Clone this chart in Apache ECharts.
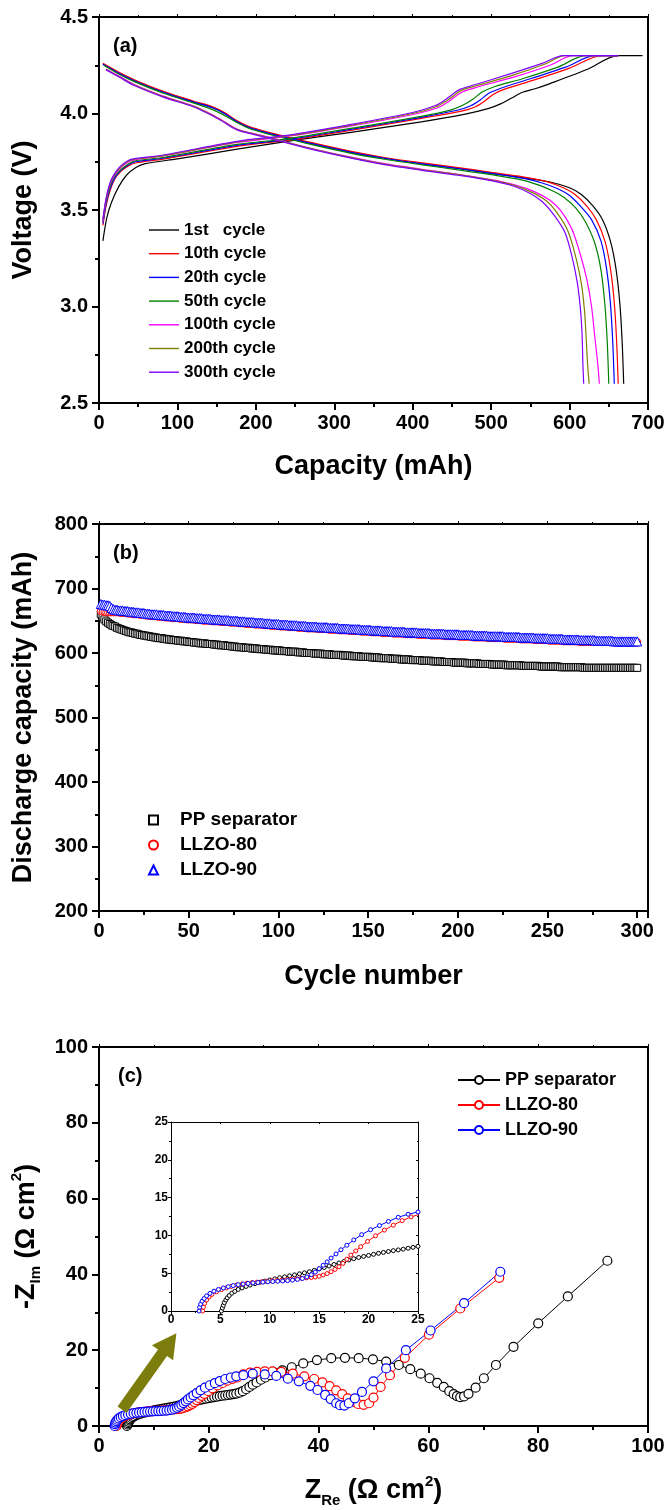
<!DOCTYPE html>
<html><head><meta charset="utf-8">
<script src="https://cdn.jsdelivr.net/npm/echarts/dist/echarts.min.js"></script>
<style>html,body{margin:0;padding:0;background:#fff}#c{width:667px;height:1510px}</style>
</head><body><div id="c"></div><script>
// ---------- Panel (a): charge/discharge curves [capacity mAh, voltage V] ----------
const cycleNames = ['1st   cycle','10th cycle','20th cycle','50th cycle','100th cycle','200th cycle','300th cycle'];
const charge1 = [[5,3.34],[10,3.46],[16,3.54],[25,3.62],[35,3.68],[47,3.72],[59,3.74],[100,3.765],[176,3.815],[242,3.857],[317,3.9],[411,3.957],[467,3.997],[496,4.025],[512,4.05],[526,4.08],[540,4.11],[556,4.128],[575,4.155],[622,4.228],[662,4.3],[693,4.3]];
const charge10 = [[5,3.42],[9,3.52],[14,3.6],[20,3.66],[28,3.7],[38,3.73],[48,3.745],[82,3.764],[176,3.83],[242,3.862],[317,3.91],[411,3.975],[465,4.015],[480,4.035],[492,4.065],[503,4.1],[520,4.13],[552,4.17],[600,4.235],[641,4.3],[662,4.3]];
const charge20 = [[5,3.43],[9,3.53],[14,3.61],[20,3.665],[28,3.705],[38,3.735],[47,3.75],[82,3.768],[176,3.835],[242,3.866],[317,3.915],[411,3.98],[458,4.018],[474,4.04],[486,4.07],[497,4.105],[515,4.135],[550,4.18],[595,4.24],[632,4.3],[662,4.3]];
const charge50 = [[5,3.44],[9,3.54],[14,3.62],[20,3.675],[28,3.71],[38,3.74],[46,3.755],[82,3.772],[176,3.84],[242,3.87],[317,3.92],[411,3.985],[450,4.02],[465,4.045],[477,4.075],[488,4.11],[505,4.14],[540,4.18],[585,4.24],[620,4.3],[662,4.3]];
const charge100 = [[5,3.44],[9,3.55],[14,3.63],[20,3.68],[28,3.72],[38,3.75],[45,3.76],[82,3.78],[176,3.85],[242,3.882],[317,3.932],[400,3.995],[432,4.03],[445,4.06],[455,4.09],[465,4.115],[485,4.14],[530,4.19],[575,4.25],[604,4.3],[662,4.3]];
const charge200 = [[5,3.45],[9,3.555],[14,3.635],[20,3.685],[28,3.725],[38,3.755],[44,3.762],[82,3.782],[176,3.853],[242,3.885],[317,3.936],[400,4.0],[430,4.035],[443,4.065],[453,4.095],[462,4.12],[482,4.145],[525,4.195],[568,4.255],[594,4.3],[662,4.3]];
const charge300 = [[5,3.45],[9,3.56],[14,3.64],[20,3.69],[28,3.73],[38,3.758],[44,3.765],[82,3.785],[176,3.856],[242,3.888],[317,3.94],[400,4.005],[428,4.04],[441,4.07],[451,4.1],[460,4.125],[480,4.15],[520,4.2],[565,4.26],[592,4.3],[662,4.3]];
const discharge1 = [[5,4.255],[25,4.21],[45,4.17],[82,4.11],[120,4.06],[145,4.03],[160,4.0],[175,3.96],[190,3.93],[214,3.9],[270,3.845],[320,3.8],[364,3.768],[410,3.74],[458,3.715],[500,3.69],[540,3.668],[575,3.645],[600,3.615],[615,3.58],[630,3.52],[642,3.45],[652,3.34],[659,3.2],[664,3.02],[667,2.82],[669,2.6]];
const discharge10 = [[5,4.26],[25,4.215],[45,4.175],[82,4.115],[120,4.065],[145,4.035],[160,4.005],[175,3.965],[190,3.935],[214,3.905],[270,3.85],[320,3.805],[364,3.772],[410,3.745],[458,3.72],[500,3.695],[540,3.672],[570,3.648],[592,3.615],[607,3.58],[622,3.52],[634,3.45],[645,3.34],[652,3.2],[657,3.02],[660,2.82],[662,2.6]];
const discharge20 = [[5,4.255],[25,4.21],[45,4.17],[82,4.11],[120,4.06],[145,4.03],[160,4.0],[175,3.96],[190,3.93],[214,3.9],[270,3.845],[320,3.8],[364,3.768],[410,3.74],[458,3.715],[500,3.69],[540,3.665],[565,3.64],[585,3.61],[600,3.575],[615,3.515],[628,3.45],[640,3.34],[647,3.2],[652,3.02],[655,2.82],[657,2.6]];
const discharge50 = [[6,4.25],[25,4.205],[45,4.165],[82,4.105],[120,4.055],[145,4.02],[160,3.99],[175,3.955],[190,3.925],[214,3.895],[270,3.84],[320,3.795],[364,3.763],[410,3.735],[458,3.708],[500,3.683],[540,3.655],[560,3.63],[578,3.6],[593,3.565],[608,3.51],[620,3.44],[632,3.33],[640,3.19],[645,3.01],[648,2.82],[650,2.6]];
const discharge100 = [[9,4.23],[25,4.195],[45,4.15],[82,4.09],[120,4.04],[139,4.005],[155,3.97],[176,3.92],[214,3.88],[270,3.82],[320,3.775],[364,3.74],[410,3.712],[458,3.685],[500,3.657],[530,3.63],[555,3.595],[575,3.55],[590,3.49],[603,3.4],[613,3.28],[622,3.14],[628,3.0],[632,2.85],[636,2.7],[638,2.6]];
const discharge200 = [[9,4.228],[25,4.192],[45,4.148],[82,4.088],[120,4.038],[139,4.003],[155,3.968],[176,3.918],[214,3.878],[270,3.818],[320,3.773],[364,3.738],[410,3.71],[458,3.683],[500,3.655],[530,3.627],[553,3.59],[571,3.545],[585,3.48],[598,3.39],[607,3.27],[615,3.12],[619,2.98],[621,2.85],[623,2.7],[625,2.6]];
const discharge300 = [[9,4.226],[25,4.19],[45,4.145],[82,4.085],[120,4.035],[139,4.0],[155,3.965],[176,3.915],[214,3.875],[270,3.815],[320,3.77],[364,3.735],[410,3.707],[458,3.68],[500,3.652],[530,3.622],[550,3.585],[566,3.54],[580,3.475],[594,3.385],[603,3.26],[610,3.12],[614,2.98],[616,2.85],[617,2.7],[618,2.6]];

// ---------- Panel (b): discharge capacity (mAh) vs cycle 1..300 ----------
const sampleNames = ['PP separator','LLZO-80','LLZO-90'];
const capPP = [
660,656,652,649,647,645,643,642,641,639, 638,637,636,635,634,633,632,632,631,630,
630,629,628,628,627,627,626,626,625,625, 624,624,623,623,623,622,622,621,621,621,
620,620,620,619,619,619,618,618,618,617, 617,617,616,616,616,615,615,615,615,614,
614,614,614,613,613,613,612,612,612,612, 611,611,611,610,610,610,609,609,609,609,
608,608,608,608,607,607,607,607,606,606, 606,606,605,605,605,605,604,604,604,604,
604,603,603,603,603,602,602,602,602,602, 601,601,601,601,600,600,600,600,600,599,
599,599,599,599,598,598,598,598,598,597, 597,597,597,597,597,596,596,596,596,596,
595,595,595,595,595,594,594,594,594,594, 594,593,593,593,593,593,592,592,592,592,
592,592,591,591,591,591,591,590,590,590, 590,590,590,589,589,589,589,589,589,588,
588,588,588,588,588,587,587,587,587,587, 587,586,586,586,586,586,586,585,585,585,
585,585,585,585,584,584,584,584,584,584, 584,583,583,583,583,583,583,583,582,582,
582,582,582,582,582,582,581,581,581,581, 581,581,581,581,581,580,580,580,580,580,
580,580,580,580,580,579,579,579,579,579, 579,579,579,579,579,579,578,578,578,578,
578,578,578,578,578,578,578,578,578,577, 577,577,577,577,577,577,577,577,577,577,
577,577,577,577,577,577,577,577,577,577, 577,577,577,577,577,577,577,577,577,577];
const capL80 = [
665,664,664,663,663,663,663,663,663,663, 663,662,662,662,662,661,661,661,660,660,
660,660,659,659,659,658,658,658,657,657, 657,657,656,656,656,656,655,655,655,655,
654,654,654,654,653,653,653,653,652,652, 652,652,652,651,651,651,651,650,650,650,
650,650,649,649,649,649,649,648,648,648, 648,648,647,647,647,647,647,646,646,646,
646,645,645,645,645,645,644,644,644,644, 644,643,643,643,643,642,642,642,642,642,
641,641,641,641,641,640,640,640,640,640, 639,639,639,639,639,638,638,638,638,638,
638,637,637,637,637,637,637,636,636,636, 636,636,636,635,635,635,635,635,635,634,
634,634,634,634,634,633,633,633,633,633, 633,632,632,632,632,632,632,631,631,631,
631,631,631,630,630,630,630,630,630,630, 629,629,629,629,629,629,629,628,628,628,
628,628,628,628,627,627,627,627,627,627, 627,627,626,626,626,626,626,626,626,626,
625,625,625,625,625,625,625,625,624,624, 624,624,624,624,624,624,623,623,623,623,
623,623,623,623,623,622,622,622,622,622, 622,622,622,622,621,621,621,621,621,621,
621,621,620,620,620,620,620,620,620,620, 619,619,619,619,619,619,619,619,618,618,
618,618,618,618,618,618,618,617,617,617, 617,617,617,617,617,617,617,617,617,617,
617,617,617,617,617,617,617,617,617,617, 617,617,617,617,617,617,617,617,617,617];
const capL90 = [
676,675,675,674,674,673,670,668,667,667, 666,666,666,665,665,665,664,664,664,663,
663,663,662,662,662,661,661,661,660,660, 660,660,659,659,659,659,658,658,658,658,
657,657,657,657,656,656,656,656,655,655, 655,655,655,654,654,654,654,653,653,653,
653,653,652,652,652,652,652,651,651,651, 651,651,650,650,650,650,650,649,649,649,
649,648,648,648,648,648,647,647,647,647, 647,646,646,646,646,645,645,645,645,645,
644,644,644,644,644,643,643,643,643,643, 642,642,642,642,642,641,641,641,641,641,
641,640,640,640,640,640,640,639,639,639, 639,639,639,638,638,638,638,638,638,637,
637,637,637,637,637,636,636,636,636,636, 636,635,635,635,635,635,635,634,634,634,
634,634,634,633,633,633,633,633,633,633, 632,632,632,632,632,632,632,631,631,631,
631,631,631,631,630,630,630,630,630,630, 630,630,629,629,629,629,629,629,629,629,
628,628,628,628,628,628,628,628,627,627, 627,627,627,627,627,627,626,626,626,626,
626,626,626,626,626,625,625,625,625,625, 625,625,625,625,624,624,624,624,624,624,
624,624,623,623,623,623,623,623,623,623, 622,622,622,622,622,622,622,622,621,621,
621,621,621,621,621,621,621,620,620,620, 620,620,620,620,620,620,619,619,619,619,
619,619,619,619,619,619,618,618,618,618, 618,618,618,618,618,618,618,618,618,618];

// ---------- Panel (c): Nyquist plots [Z_Re, -Z_Im] (Ω cm²) ----------
const eisPP = [[5.1,0],[5.2,0.4],[5.3,0.75],[5.4,1.1],[5.55,1.45],[5.7,1.75],[5.9,2.05],[6.15,2.35],[6.45,2.6],[6.8,2.85],[7.2,3.05],[7.6,3.25],[8.0,3.43],[8.5,3.62],[9.0,3.8],[9.5,3.95],[10.0,4.1],[10.5,4.25],[11.0,4.4],[11.5,4.52],[12.0,4.65],[12.5,4.78],[13.0,4.92],[13.5,5.05],[14.0,5.2],[14.5,5.38],[15.0,5.56],[15.5,5.75],[16.0,5.95],[16.5,6.15],[17.0,6.35],[17.5,6.55],[18.0,6.75],[18.5,6.92],[19.0,7.08],[19.5,7.22],[20.0,7.35],[20.5,7.5],[21.0,7.63],[21.5,7.75],[22.0,7.87],[22.5,7.98],[23.0,8.08],[23.5,8.18],[24.0,8.3],[24.5,8.42],[25.0,8.55],[25.6,8.8],[26.2,9.2],[26.8,9.7],[27.4,10.3],[28.0,10.9],[28.7,11.5],[29.5,12.2],[30.3,12.8],[31.2,13.4],[32.2,14.0],[33.4,14.7],[35.1,15.5],[37.2,16.5],[39.7,17.4],[42.3,17.9],[44.8,18.0],[47.3,17.9],[49.9,17.6],[52.3,17.0],[54.6,16.1],[56.7,15.0],[58.6,13.8],[60.2,12.6],[61.6,11.4],[62.8,10.3],[63.8,9.2],[64.6,8.4],[65.2,7.9],[65.8,7.6],[66.5,7.8],[67.3,8.5],[68.6,10.1],[70.1,12.6],[72.3,16.1],[75.5,20.9],[80.0,27.1],[85.4,34.2],[92.6,43.6]];
const eisL80 = [[3.2,0],[3.28,0.5],[3.4,1.0],[3.6,1.45],[3.85,1.85],[4.15,2.2],[4.6,2.55],[5.1,2.82],[5.6,3.05],[6.1,3.25],[6.65,3.43],[7.2,3.57],[7.7,3.68],[8.2,3.76],[8.7,3.82],[9.2,3.88],[9.7,3.93],[10.2,3.98],[10.7,4.03],[11.2,4.08],[11.7,4.13],[12.2,4.2],[12.7,4.27],[13.2,4.33],[13.7,4.38],[14.2,4.43],[14.6,4.5],[15.0,4.6],[15.4,4.75],[15.8,4.95],[16.2,5.2],[16.6,5.5],[17.0,5.85],[17.4,6.3],[17.8,6.85],[18.2,7.4],[18.7,7.95],[19.2,8.5],[19.9,9.2],[20.7,9.95],[21.6,10.7],[22.5,11.35],[23.4,11.95],[24.3,12.45],[25.2,12.8],[26.3,13.6],[27.5,14.1],[28.8,14.3],[30.2,14.4],[31.6,14.4],[33.2,14.3],[35.3,13.8],[37.4,13.1],[39.2,12.4],[40.7,11.5],[42.0,10.5],[43.2,9.4],[44.3,8.4],[45.3,7.3],[46.2,6.4],[47.2,5.8],[48.2,5.6],[49.2,6.0],[50.0,7.5],[51.3,10.3],[53.0,13.4],[55.7,18.0],[60.1,24.1],[65.8,31.0],[72.9,39.1]];
const eisL90 = [[2.84,0],[2.9,0.5],[3.0,0.9],[3.15,1.3],[3.35,1.65],[3.6,2.0],[3.95,2.33],[4.35,2.62],[4.8,2.85],[5.3,3.05],[5.8,3.22],[6.3,3.36],[6.8,3.48],[7.3,3.57],[7.8,3.65],[8.3,3.72],[8.8,3.77],[9.3,3.82],[9.8,3.86],[10.3,3.9],[10.8,3.93],[11.3,3.97],[11.8,4.02],[12.3,4.08],[12.8,4.18],[13.3,4.3],[13.75,4.5],[14.2,4.8],[14.6,5.15],[15.0,5.6],[15.4,6.05],[15.8,6.5],[16.2,7.0],[16.7,7.55],[17.2,8.1],[17.8,8.7],[18.5,9.4],[19.3,10.1],[20.2,10.75],[21.1,11.3],[22.0,11.85],[23.0,12.4],[24.0,12.8],[25.0,13.1],[26.3,13.4],[28.0,13.8],[30.2,13.6],[32.3,13.2],[34.4,12.5],[36.4,11.8],[38.5,10.6],[39.8,9.5],[41.2,8.2],[42.2,7.1],[43.2,6.0],[43.9,5.5],[44.7,5.4],[45.5,6.0],[46.6,7.3],[47.9,9.0],[50.0,11.8],[52.3,15.2],[55.9,20.0],[60.4,25.2],[66.5,32.4],[73.1,40.7]];
const arrowFrom = [4.2, 4.3];
const arrowTo = [14.1, 24.5];

// ---------- styles ----------
const FONT = "'Liberation Sans', Arial, Helvetica, sans-serif";
const cycleColors = ['#000000','#ff0000','#0000ff','#008000','#ff00ff','#808000','#8000ff'];
const sampleColors = ['#000000','#ff0000','#0000ff'];
const chargeSets = [charge1,charge10,charge20,charge50,charge100,charge200,charge300];
const dischargeSets = [discharge1,discharge10,discharge20,discharge50,discharge100,discharge200,discharge300];

const chart = echarts.init(document.getElementById('c'), null, {renderer:'canvas'});
const txt = (size) => ({fontFamily:FONT, fontWeight:'bold', fontSize:size, color:'#000'});
const AXL = (w) => ({show:true, onZero:false, lineStyle:{color:'#000', width:w}});

function mainX(gi, min, max, interval, fmt, name, gap, nameStyle) {
  return {gridIndex:gi, type:'value', position:'bottom', min, max, interval,
    axisLine:AXL(2), splitLine:{show:false},
    axisTick:{show:true, length:7, lineStyle:{color:'#000', width:2}},
    minorTick:{show:true, splitNumber:2, length:4, lineStyle:{color:'#000', width:2}},
    axisLabel:Object.assign(txt(20), {margin:10, formatter:fmt, hideOverlap:false}),
    name, nameLocation:'middle', nameGap:gap, nameTextStyle:nameStyle};
}
function topX(gi, min, max, interval) {
  return {gridIndex:gi, type:'value', position:'top', min, max, interval,
    axisLine:AXL(2), splitLine:{show:false},
    axisTick:{show:true, length:3, lineStyle:{color:'#000', width:1}},
    minorTick:{show:true, splitNumber:2, length:2, lineStyle:{color:'#000', width:1}},
    axisLabel:{show:false}};
}
function mainY(gi, min, max, interval, fmt, name, gap, nameStyle) {
  return {gridIndex:gi, type:'value', position:'left', min, max, interval,
    axisLine:AXL(2), splitLine:{show:false},
    axisTick:{show:true, length:7, lineStyle:{color:'#000', width:2}},
    minorTick:{show:true, splitNumber:2, length:4, lineStyle:{color:'#000', width:2}},
    axisLabel:Object.assign(txt(20), {margin:11, formatter:fmt, hideOverlap:false}),
    name, nameLocation:'middle', nameGap:gap, nameRotate:90, nameTextStyle:nameStyle};
}
function rightY(gi, min, max) {
  return {gridIndex:gi, type:'value', position:'right', min, max,
    axisLine:AXL(2), splitLine:{show:false}, axisTick:{show:false}, axisLabel:{show:false}};
}
const titleStyle = txt(27);
const zRich = {
  m:{fontFamily:FONT, fontWeight:'bold', fontSize:27, color:'#000', lineHeight:34},
  s:{fontFamily:FONT, fontWeight:'bold', fontSize:15, color:'#000', lineHeight:16, verticalAlign:'bottom'},
  p:{fontFamily:FONT, fontWeight:'bold', fontSize:15, color:'#000', lineHeight:16, verticalAlign:'top'}
};

const grids = [
  {left:99, top:17, width:549, height:386},
  {left:99, top:524, width:549, height:387},
  {left:99, top:1047, width:549, height:379},
  {left:171, top:1122, width:247, height:189}
].map(g => Object.assign(g, {containLabel:false, outerBoundsMode:'none'}));

const xAxes = [
  mainX(0, 0, 700, 100, null, 'Capacity (mAh)', 50, titleStyle),
  topX(0, 0, 700, 100),
  mainX(1, 0, 306, 50, v => (v % 50 === 0 ? String(v) : ''), 'Cycle number', 52, titleStyle),
  topX(1, 0, 306, 50),
  mainX(2, 0, 100, 20, null, '{m|Z}{s|Re}{m| (Ω cm}{p|2}{m|)}', 48, {rich:zRich}),
  topX(2, 0, 100, 20),
  {gridIndex:3, type:'value', position:'bottom', min:0, max:25, interval:5,
    axisLine:AXL(1), splitLine:{show:false},
    axisTick:{show:true, length:3, lineStyle:{color:'#000', width:1}},
    minorTick:{show:true, splitNumber:2, length:2, lineStyle:{color:'#000', width:1}},
    axisLabel:Object.assign(txt(12), {margin:3})},
  {gridIndex:3, type:'value', position:'top', min:0, max:25, interval:5,
    axisLine:AXL(1), splitLine:{show:false},
    axisTick:{show:true, inside:true, length:2, lineStyle:{color:'#000', width:1}},
    minorTick:{show:true, splitNumber:2, length:1, lineStyle:{color:'#000', width:1}},
    axisLabel:{show:false}}
];
const yAxes = [
  mainY(0, 2.5, 4.5, 0.5, v => v.toFixed(1), 'Voltage (V)', 62, titleStyle),
  rightY(0, 2.5, 4.5),
  mainY(1, 200, 800, 100, null, 'Discharge capacity (mAh)', 62, titleStyle),
  rightY(1, 200, 800),
  mainY(2, 0, 100, 20, null, '{m|-Z}{s|Im}{m| (Ω cm}{p|2}{m|)}', 54, {rich:zRich}),
  rightY(2, 0, 100),
  {gridIndex:3, type:'value', position:'left', min:0, max:25, interval:5,
    axisLine:AXL(1), splitLine:{show:false},
    axisTick:{show:true, length:3, lineStyle:{color:'#000', width:1}},
    minorTick:{show:true, splitNumber:2, length:2, lineStyle:{color:'#000', width:1}},
    axisLabel:Object.assign(txt(12), {margin:3})},
  {gridIndex:3, type:'value', position:'right', min:0, max:25, interval:5,
    axisLine:AXL(1), splitLine:{show:false},
    axisTick:{show:true, inside:true, length:2, lineStyle:{color:'#000', width:1}},
    minorTick:{show:true, splitNumber:2, length:1, lineStyle:{color:'#000', width:1}},
    axisLabel:{show:false}}
];

const series = [];
// (a)
for (let i = 0; i < 7; i++) {
  [chargeSets[i], dischargeSets[i]].forEach(d => series.push({
    type:'line', name:cycleNames[i], xAxisIndex:0, yAxisIndex:0, data:d,
    smooth:0.3, symbol:'none', color:cycleColors[i],
    lineStyle:{width:1.2, color:cycleColors[i]}, z:2, animation:false
  }));
}
// (b)
const capSets = [capPP, capL80, capL90];
const capSymbols = ['rect','circle','triangle'];
const capSizes = [7, 7, 9];
capSets.forEach((arr, k) => series.push({
  type:'scatter', name:sampleNames[k], xAxisIndex:2, yAxisIndex:2,
  data:arr.map((v, i) => [i + 1, v]), symbol:capSymbols[k], symbolSize:capSizes[k],
  color:sampleColors[k],
  itemStyle:{color:'#ffffff', borderColor:sampleColors[k], borderWidth:1, opacity:1},
  z:2, animation:false
}));
// (c) main + inset
const eisSets = [eisPP, eisL80, eisL90];
eisSets.forEach((d, k) => series.push({
  type:'line', name:sampleNames[k] + '#c', xAxisIndex:4, yAxisIndex:4, data:d,
  symbol:'circle', symbolSize:9, showAllSymbol:true, color:sampleColors[k],
  itemStyle:{color:'#ffffff', borderColor:sampleColors[k], borderWidth:1.2},
  lineStyle:{width:1, color:sampleColors[k]}, z:2, animation:false
}));
eisSets.forEach((d, k) => series.push({
  type:'line', name:sampleNames[k] + '#i', xAxisIndex:6, yAxisIndex:6, data:d,
  symbol:'circle', symbolSize:4, showAllSymbol:true, clip:true, color:sampleColors[k],
  itemStyle:{color:'#ffffff', borderColor:sampleColors[k], borderWidth:1},
  lineStyle:{width:1, color:sampleColors[k]}, z:3, animation:false
}));

const option = {
  animation:false,
  backgroundColor:'#ffffff',
  grid:grids, xAxis:xAxes, yAxis:yAxes, series,
  legend:[
    {data:cycleNames, orient:'vertical', left:144, top:216, icon:'rect', itemWidth:30, itemHeight:1.4, itemGap:5.7,
     textStyle:Object.assign(txt(17), {lineHeight:18}), selectedMode:false},
    {data:sampleNames, orient:'vertical', left:143, top:805, itemWidth:9, itemHeight:9, itemGap:5,
     textStyle:Object.assign(txt(19), {lineHeight:20, padding:[0,0,0,17]}), selectedMode:false},
    {data:sampleNames.map(n => n + '#c'), orient:'vertical', left:452, top:1065, itemWidth:42, itemHeight:10, itemGap:5,
     formatter:n => n.replace('#c', ''), textStyle:Object.assign(txt(18), {lineHeight:20}), selectedMode:false}
  ]
};
chart.setOption(option);

// annotations: panel labels and olive arrow (placed via the axes)
const p0 = chart.convertToPixel({xAxisIndex:4, yAxisIndex:4}, arrowFrom);
const p1 = chart.convertToPixel({xAxisIndex:4, yAxisIndex:4}, arrowTo);
const dx = p1[0] - p0[0], dy = p1[1] - p0[1], L = Math.hypot(dx, dy);
const ux = dx / L, uy = dy / L, nx = -uy, ny = ux;
const sw = 5.5, hw = 13, hl = 24;
const bx = p1[0] - ux * hl, by = p1[1] - uy * hl;
const arrowPts = [
  [p0[0] + nx * sw, p0[1] + ny * sw], [bx + nx * sw, by + ny * sw], [bx + nx * hw, by + ny * hw],
  [p1[0], p1[1]], [bx - nx * hw, by - ny * hw], [bx - nx * sw, by - ny * sw], [p0[0] - nx * sw, p0[1] - ny * sw]
];
chart.setOption({graphic:[
  {type:'text', left:113, top:36, style:{text:'(a)', font:"bold 20px 'Liberation Sans', Arial", fill:'#000'}},
  {type:'text', left:113, top:543, style:{text:'(b)', font:"bold 20px 'Liberation Sans', Arial", fill:'#000'}},
  {type:'text', left:118, top:1066, style:{text:'(c)', font:"bold 20px 'Liberation Sans', Arial", fill:'#000'}},
  {type:'polygon', shape:{points:arrowPts}, style:{fill:'#7d7d0d'}, z:10}
]});
</script></body></html>
